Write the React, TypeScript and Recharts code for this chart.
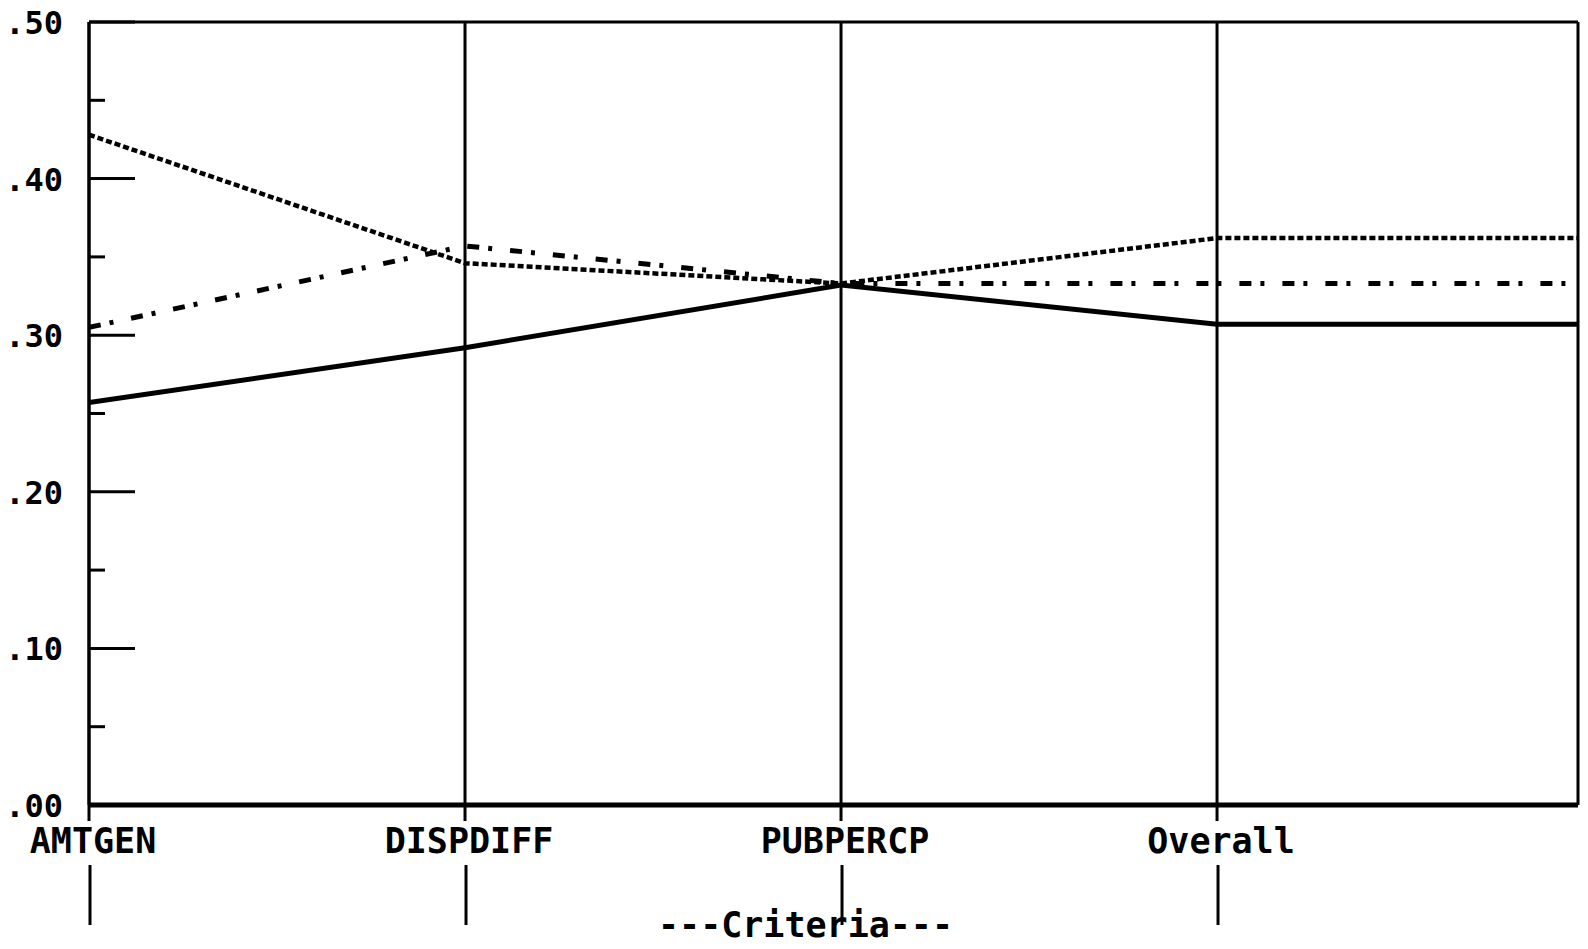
import React from 'react';
import { LineChart, Line, XAxis, YAxis, CartesianGrid, ReferenceLine } from 'recharts';

const categories = ['AMTGEN', 'DISPDIFF', 'PUBPERCP', 'Overall'];
const xPositions = [0, 1, 2, 3, 4];
const solidSeries = [0.257, 0.292, 0.332, 0.307, 0.307];
const dottedSeries = [0.428, 0.346, 0.333, 0.362, 0.362];
const dashDotSeries = [0.305, 0.357, 0.333, 0.333, 0.333];
const yTicks = [0, 0.05, 0.1, 0.15, 0.2, 0.25, 0.3, 0.35, 0.4, 0.45, 0.5];
const yMajorLabels: Record<string, string> = {
  '0': '.00', '0.1': '.10', '0.2': '.20', '0.3': '.30', '0.4': '.40', '0.5': '.50',
};
const axisTitle = '---Criteria---';

const data = xPositions.map((x, i) => ({
  x,
  solid: solidSeries[i],
  dotted: dottedSeries[i],
  dashDot: dashDotSeries[i],
}));

const FONT = '"DejaVu Sans Mono", monospace';

const YTick = (props: any) => {
  const { x, y, payload } = props;
  const v = Math.round(payload.value * 100) / 100;
  const label = yMajorLabels[String(v)];
  const major = label !== undefined;
  return (
    <g>
      <line x1={x} y1={y} x2={x + (major ? 46 : 16)} y2={y} stroke="#000" strokeWidth={3} />
      {major && (
        <text x={x - 26} y={y + 12} textAnchor="end" fontFamily={FONT} fontWeight="bold" fontSize={32} fill="#000">
          {label}
        </text>
      )}
    </g>
  );
};

const XTick = (props: any) => {
  const { x, y, payload } = props;
  const label = categories[payload.value] ?? '';
  return (
    <g>
      <line x1={x} y1={y} x2={x} y2={y + 16} stroke="#000" strokeWidth={3} />
      <text x={x + 4} y={y + 48} textAnchor="middle" fontFamily={FONT} fontWeight="bold" fontSize={35} fill="#000">
        {label}
      </text>
      <line x1={x + 1} y1={y + 60} x2={x + 1} y2={y + 120} stroke="#000" strokeWidth={3} />
    </g>
  );
};

const CriteriaLabel = (props: any) => {
  const { viewBox } = props;
  return (
    <text
      x={viewBox.x + viewBox.width / 2 - 28}
      y={viewBox.y + viewBox.height - 12}
      textAnchor="middle"
      fontFamily={FONT}
      fontWeight="bold"
      fontSize={35}
      fill="#000"
    >
      {axisTitle}
    </text>
  );
};

export default function App() {
  return (
    <div style={{ position: 'absolute', left: 0, top: 0, width: 1588, height: 949, background: '#fff', overflow: 'hidden' }}>
      <LineChart width={1588} height={949} data={data} margin={{ top: 22, right: 10, bottom: 0, left: 0 }}>
        <CartesianGrid vertical horizontal={false} stroke="#000" strokeWidth={3} />
        <XAxis
          type="number"
          dataKey="x"
          domain={[0, 3.96]}
          allowDataOverflow
          ticks={[0, 1, 2, 3]}
          tick={<XTick />}
          tickLine={false}
          tickSize={0}
          tickMargin={0}
          height={144}
          axisLine={{ stroke: '#000', strokeWidth: 5 }}
          interval={0}
          label={<CriteriaLabel />}
        />
        <YAxis
          type="number"
          domain={[0, 0.5]}
          ticks={yTicks}
          tick={<YTick />}
          tickLine={false}
          tickSize={0}
          tickMargin={0}
          width={89}
          interval={0}
          axisLine={{ stroke: '#000', strokeWidth: 3 }}
        />
        <ReferenceLine y={0.5} stroke="#000" strokeWidth={3} />
        <Line type="linear" dataKey="solid" stroke="#000" strokeWidth={5} dot={false} isAnimationActive={false} />
        <Line type="linear" dataKey="dotted" stroke="#000" strokeWidth={4.5} strokeDasharray="6 3" dot={false} isAnimationActive={false} />
        <Line type="linear" dataKey="dashDot" stroke="#000" strokeWidth={5} strokeDasharray="12 9 4 18" dot={false} isAnimationActive={false} />
      </LineChart>
    </div>
  );
}
